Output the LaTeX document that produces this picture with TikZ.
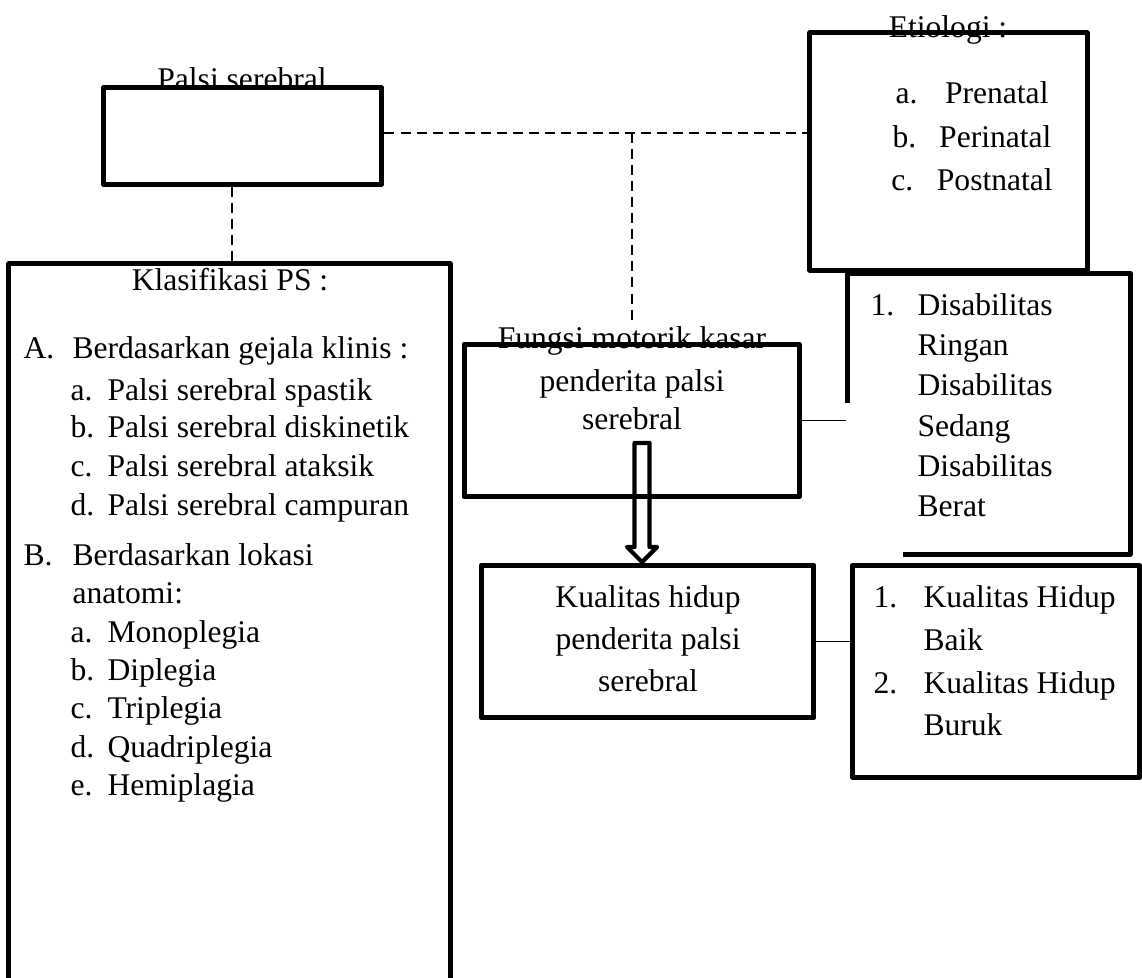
\documentclass[tikz,border=0pt]{standalone}
\usepackage{fontspec}
\setmainfont{Liberation Serif}

\begin{document}
\begin{tikzpicture}[x=0.38pt,y=-0.38pt,
  box/.style={draw,line width=1.9pt,inner sep=0pt,line join=round},
  lbl/.style={font=\fontsize{12}{14}\selectfont,inner sep=0pt,anchor=base},
  item/.style={lbl,anchor=base west},
  dashln/.style={line width=0.6pt,dash pattern=on 3.8pt off 2.3pt},
  thinln/.style={line width=0.6pt}]
\useasboundingbox (0,0) rectangle (1142,977);
% ================= boxes =================
\node[box,minimum width=106pt,minimum height=36.5pt] (ps) at (242.5,136) {};
\node[box,minimum width=105.3pt,minimum height=90.1pt] (etio) at (948.5,151.5) {};
\node[box,minimum width=167.6pt,minimum height=279.7pt] (klas) at (229.5,632) {};
\node[box,minimum width=127.3pt,minimum height=58.1pt] (fungsi) at (631.5,420.5) {};
\node[box,minimum width=126.5pt,minimum height=58.1pt] (kual) at (647.5,641.5) {};
\node[box,minimum width=109.4pt,minimum height=80.2pt] (kuallist) at (996,671.5) {};
% disabilitas frame: left side and bottom left open
\draw[line width=1.9pt,line join=round] (847,403) |- (1130,273) |- (903,554);
\coordinate (dw) at (846,422);
% ================= connectors =================
\coordinate (jn) at (632,133);
\coordinate (jn-end) at (632,322);
\coordinate (vx) at (232,0);
\draw[dashln] (ps.east |- jn) -- (jn) -- (jn -| etio.west);
\draw[dashln] (jn) -- (jn-end);
\draw[dashln] (ps.south -| vx) -- (klas.north -| vx);
\draw[thinln] (fungsi.east) -- (fungsi.east -| dw);
\draw[thinln] (kual.east) -- (kual.east -| kuallist.west);
% hollow arrow fungsi -> kualitas
\coordinate (tip) at (642,562);
\draw[line width=1.6pt,line join=round] (tip) -- ++(-15,-15) -- ++(7.5,0) -- ++(0,-104)
  -- ++(15,0) -- ++(0,104) -- ++(7.5,0) -- cycle;
% ================= palsi serebral =================
\node[lbl] (ps-lbl) at (242,89) {Palsi serebral};
% ================= etiologi =================
\node[lbl] (etio-lbl) at (948,37) {Etiologi :};
\node[lbl] (etio-a) at (972,103) {a.\hspace{10.5pt}Prenatal};
\node[lbl] (etio-b) at (972,147) {b.\hspace{8.7pt}Perinatal};
\node[lbl] (etio-c) at (972,190) {c.\hspace{9pt}Postnatal};
% ================= klasifikasi =================
\node[lbl] (klas-lbl) at (230,290) {Klasifikasi PS :};
\node[item] (klas-A) at (23,358) {A.};
\node[item] (klas-At) at (72,358) {Berdasarkan gejala klinis :};
\node[item] (klas-Aa) at (70,400) {a.};
\node[item] (klas-Aat) at (107,400) {Palsi serebral spastik};
\node[item] (klas-Ab) at (70,437) {b.};
\node[item] (klas-Abt) at (107,437) {Palsi serebral diskinetik};
\node[item] (klas-Ac) at (70,476) {c.};
\node[item] (klas-Act) at (107,476) {Palsi serebral ataksik};
\node[item] (klas-Ad) at (70,515) {d.};
\node[item] (klas-Adt) at (107,515) {Palsi serebral campuran};
\node[item] (klas-B) at (23,565) {B.};
\node[item] (klas-Bt) at (72,565) {Berdasarkan lokasi};
\node[item] (klas-Bt2) at (72,603) {anatomi:};
\node[item] (klas-Ba) at (70,642) {a.};
\node[item] (klas-Bat) at (107,642) {Monoplegia};
\node[item] (klas-Bb) at (70,680) {b.};
\node[item] (klas-Bbt) at (107,680) {Diplegia};
\node[item] (klas-Bc) at (70,718) {c.};
\node[item] (klas-Bct) at (107,718) {Triplegia};
\node[item] (klas-Bd) at (70,757) {d.};
\node[item] (klas-Bdt) at (107,757) {Quadriplegia};
\node[item] (klas-Be) at (70,795) {e.};
\node[item] (klas-Bet) at (107,795) {Hemiplagia};
% ================= fungsi motorik =================
\node[lbl] (fungsi-l1) at (632,348) {Fungsi motorik kasar};
\node[lbl] (fungsi-l2) at (632,391) {penderita palsi};
\node[lbl] (fungsi-l3) at (632,429) {serebral};
% ================= disabilitas =================
\node[item] (dis-n) at (870,315) {1.};
\node[item] (dis-1) at (917,315) {Disabilitas};
\node[item] (dis-2) at (917,355) {Ringan};
\node[item] (dis-3) at (917,395) {Disabilitas};
\node[item] (dis-4) at (917,436) {Sedang};
\node[item] (dis-5) at (917,476) {Disabilitas};
\node[item] (dis-6) at (917,516) {Berat};
% ================= kualitas hidup =================
\node[lbl] (kual-l1) at (648,607) {Kualitas hidup};
\node[lbl] (kual-l2) at (648,649) {penderita palsi};
\node[lbl] (kual-l3) at (648,691) {serebral};
\node[item] (kl-n1) at (873,607) {1.};
\node[item] (kl-1) at (923,607) {Kualitas Hidup};
\node[item] (kl-2) at (923,650) {Baik};
\node[item] (kl-n2) at (873,693) {2.};
\node[item] (kl-3) at (923,693) {Kualitas Hidup};
\node[item] (kl-4) at (923,735) {Buruk};
\end{tikzpicture}
\end{document}
